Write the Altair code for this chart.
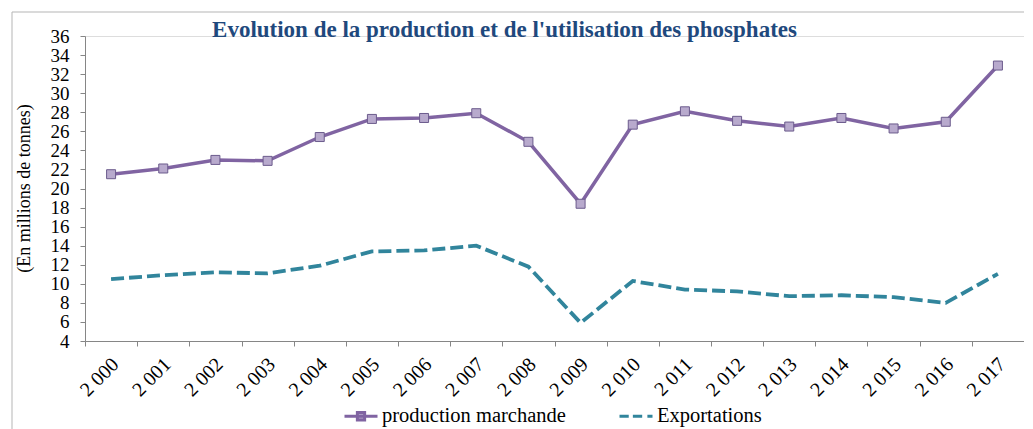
import altair as alt
import pandas as pd

years = ["2 000", "2 001", "2 002", "2 003", "2 004", "2 005", "2 006", "2 007", "2 008",
         "2 009", "2 010", "2 011", "2 012", "2 013", "2 014", "2 015", "2 016", "2 017"]
production = [21.5, 22.1, 23.0, 22.9, 25.4, 27.3, 27.4, 27.9, 24.9,
              18.4, 26.7, 28.1, 27.1, 26.5, 27.4, 26.3, 27.0, 32.9]
exportations = [10.5, 10.9, 11.2, 11.1, 11.9, 13.4, 13.5, 14.0, 11.8,
                5.9, 10.3, 9.4, 9.2, 8.7, 8.8, 8.6, 8.0, 11.05]
series_names = ["production marchande", "Exportations"]
series_colors = ["#8064A2", "#31859C"]
y_ticks = list(range(4, 37, 2))

rows = []
for i, yr in enumerate(years):
    rows.append({"annee": yr, "serie": series_names[0], "valeur": production[i]})
    rows.append({"annee": yr, "serie": series_names[1], "valeur": exportations[i]})
df = pd.DataFrame(rows)

FONT = "Liberation Serif"
GRAY = "#868686"

x = alt.X("annee:N", sort=years,
          scale=alt.Scale(type="band", paddingInner=0, paddingOuter=0),
          axis=alt.Axis(title=None, labelAngle=-45, labelAlign="right", labelBaseline="middle",
                        tickBand="extent", tickSize=5, tickColor=GRAY, domainColor=GRAY,
                        labelFont=FONT, labelFontSize=20, labelColor="black", labelPadding=15,
                        labelOffset=4, labelOverlap=False, grid=False))
y = alt.Y("valeur:Q", scale=alt.Scale(domain=[4, 36], nice=False, zero=False),
          axis=alt.Axis(values=y_ticks, grid=False, tickSize=5, tickColor=GRAY, domainColor=GRAY,
                        labelFont=FONT, labelFontSize=19, labelColor="black", labelPadding=11,
                        labelOverlap=False,
                        title="(En millions de tonnes)", titleFont=FONT, titleFontSize=18,
                        titleFontWeight="normal", titleColor="black",
                        titleX=-61, titleY=152, titleAlign="center", titleBaseline="middle",
                        titleAngle=270))

color_scale = alt.Scale(domain=series_names, range=series_colors)
base = alt.Chart(df)

prod_line = base.transform_filter(alt.datum.serie == series_names[0]).mark_line(
    strokeWidth=3.5, color=series_colors[0]).encode(x=x, y=y)
exp_line = base.transform_filter(alt.datum.serie == series_names[1]).mark_line(
    strokeWidth=3.8, color=series_colors[1], strokeDash=[13, 5]).encode(x=x, y=y)

markers = base.transform_filter(alt.datum.serie == series_names[0]).mark_point(
    shape="square", filled=True, size=81, fill="#B8AACD", stroke="#6B5B8C", strokeWidth=1, opacity=1
).encode(x=x, y=y)

path_prod = "M-1,0H1M-0.22,-0.22H0.22V0.22H-0.22Z"
path_exp = "M-1,0H-0.44M-0.19,0H0.375M0.69,0H1"

leg = alt.Legend(title=None, orient="none", legendX=258, legendY=362, direction="horizontal",
                 labelFont=FONT, labelFontSize=20.5, labelColor="black", labelOffset=3,
                 labelLimit=0, symbolSize=1089, symbolStrokeWidth=3, symbolOpacity=1,
                 columnPadding=47, padding=0)

legend_layer = base.mark_point(opacity=0, filled=False, fill="#B8AACD", strokeWidth=3).encode(
    x=x, y=y,
    color=alt.Color("serie:N", scale=color_scale, legend=leg),
    shape=alt.Shape("serie:N", scale=alt.Scale(domain=series_names, range=[path_prod, path_exp]),
                    legend=leg),
)

frame = alt.Chart(alt.Data(values=[{"k": 1}]))
border_v = frame.mark_rule(color="#B5B5B5", strokeWidth=1).encode(
    x=alt.value(-73), y=alt.value(-24), y2=alt.value(420))
border_h = frame.mark_rule(color="#B5B5B5", strokeWidth=1).encode(
    x=alt.value(-73), x2=alt.value(1000), y=alt.value(-24))

chart = alt.layer(border_v, border_h, prod_line, exp_line, markers, legend_layer).properties(
    width=939, height=305,
    padding={"left": 77, "top": 28, "right": 0, "bottom": 88},
    autosize=alt.AutoSizeParams(type="none"),
    title=alt.TitleParams("Evolution de la production et de l'utilisation des phosphates",
                          font=FONT, fontSize=23, fontWeight="bold", color="#1F497D",
                          anchor="middle", dx=-50, dy=48, baseline="alphabetic", offset=0),
).configure_view(stroke=None).configure(background="white")

chart.save("out.html", embed_options={"renderer": "svg", "actions": False})
